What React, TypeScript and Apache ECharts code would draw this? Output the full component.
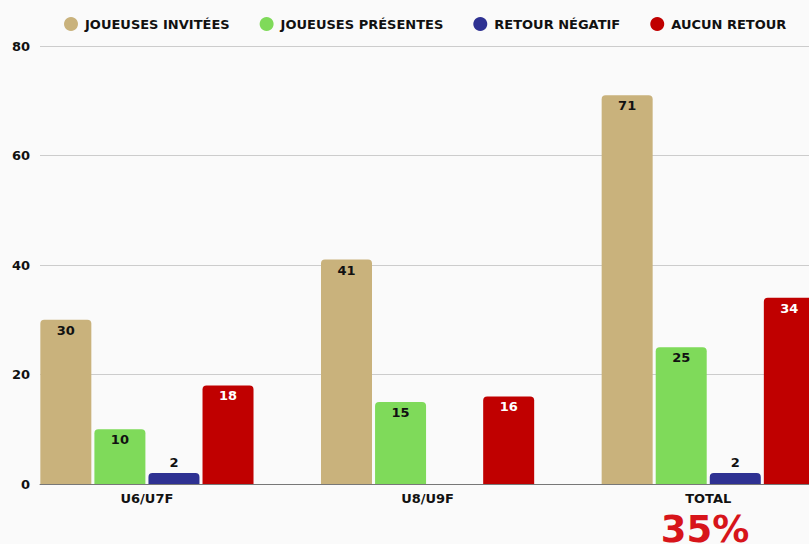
import React, { useEffect, useRef } from "react";
import * as echarts from "echarts";

const categories = ["U6/U7F", "U8/U9F", "TOTAL"];
const seriesNames = ["JOUEUSES INVITÉES", "JOUEUSES PRÉSENTES", "RETOUR NÉGATIF", "AUCUN RETOUR"];
const invitees = [30, 41, 71];
const presentes = [10, 15, 25];
const negatif = [2, 0, 2];
const aucun = [18, 16, 34];
const yTicks = [0, 20, 40, 60, 80];
const totalPercent = "35%";

const colors = ["#C9B27C", "#7FDA5A", "#2E3192", "#C00000"];
const labelColors = ["#111", "#111", "#111", "#fff"];
const FONT = "'DejaVu Sans', sans-serif";

export default function App() {
  const ref = useRef<HTMLDivElement>(null);
  useEffect(() => {
    document.body.style.margin = "0";
    const chart = echarts.init(ref.current!, null, { renderer: "svg" });
    const values = [invitees, presentes, negatif, aucun];
    const idx = categories.map((_, i) => i);
    const series = values.map((vals, i) => ({
      name: seriesNames[i],
      type: "bar",
      data: vals.map((v, j) => [idx[j], v]),
      barWidth: 51,
      barGap: "6%",
      itemStyle: { color: colors[i], borderRadius: [4, 4, 0, 0] },
      label: {
        show: true,
        position: i === 2 ? "top" : "insideTop",
        distance: 4,
        color: labelColors[i],
        fontFamily: FONT,
        fontWeight: "bold",
        fontSize: 13,
        formatter: (p: any) => (p.value[1] === 0 ? "" : String(p.value[1])),
      },
    }));
    chart.setOption({
      animation: false,
      backgroundColor: "#FAFAFA",
      textStyle: { fontFamily: FONT },
      legend: {
        data: seriesNames,
        top: 12,
        left: 59,
        icon: "circle",
        itemWidth: 14,
        itemHeight: 14,
        itemGap: 30,
        textStyle: { fontFamily: FONT, fontWeight: "bold", fontSize: 13, color: "#111", padding: [0, 0, 0, 2] },
      },
      grid: { left: 40, top: 46, right: 0, height: 438, containLabel: false },
      xAxis: {
        type: "value",
        min: -0.381,
        max: 2.359,
        axisLine: { show: true, onZero: false, lineStyle: { color: "#777", width: 1 } },
        axisTick: { show: false },
        splitLine: { show: false },
        axisLabel: {
          customValues: idx,
          color: "#111",
          fontFamily: FONT,
          fontWeight: "bold",
          fontSize: 13,
          margin: 8,
          formatter: (v: number) => categories[Math.round(v)] ?? "",
        },
      },
      yAxis: {
        type: "value",
        min: yTicks[0],
        max: yTicks[yTicks.length - 1],
        interval: 20,
        axisLine: { show: false },
        axisTick: { show: false },
        axisLabel: { color: "#111", fontFamily: FONT, fontWeight: "bold", fontSize: 13, margin: 10 },
        splitLine: { show: true, lineStyle: { color: "#CCCCCC", width: 1 } },
      },
      graphic: [
        {
          type: "text",
          x: 705,
          y: 511,
          z: 10,
          style: {
            text: totalPercent,
            fill: "#D7141A",
            font: `bold 37px ${FONT}`,
            textAlign: "center",
            textVerticalAlign: "top",
          },
        },
      ],
      series,
    });
    return () => chart.dispose();
  }, []);
  return <div ref={ref} style={{ width: 809, height: 544 }} />;
}
